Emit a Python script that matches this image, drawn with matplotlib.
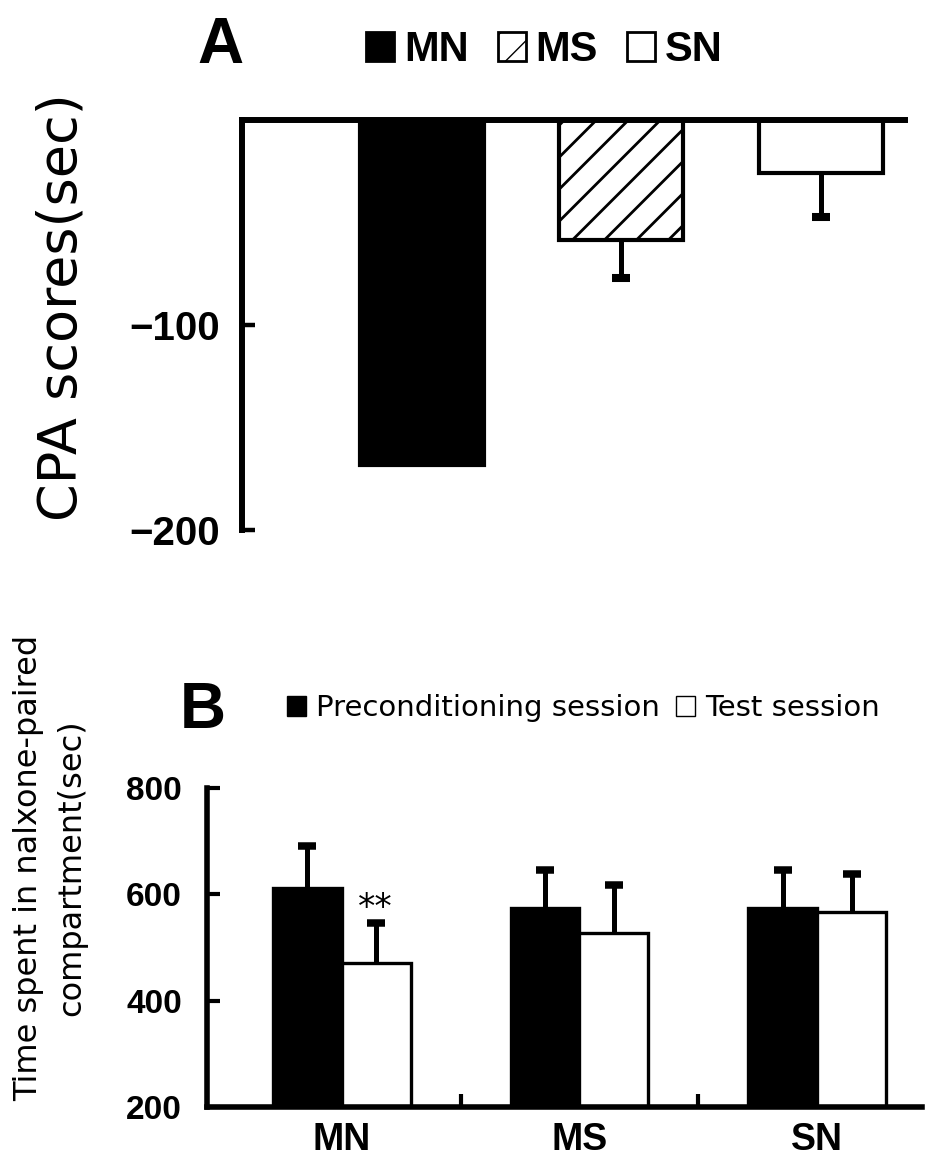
import numpy as np
import matplotlib
matplotlib.use("Agg")
import matplotlib.pyplot as plt
from matplotlib.patches import Patch
from matplotlib.lines import Line2D
from matplotlib.transforms import IdentityTransform

# ---------------- data ----------------
groups = ["MN", "MS", "SN"]
cpa_mean = [-168.3, -58.5, -25.9]
cpa_err = [np.nan, 18.5, 21.4]

sessions = ["Preconditioning session", "Test session"]
pre_mean = [612, 574, 574]
pre_err = [79, 72, 72]
test_mean = [471, 527, 567]
test_err = [76, 91, 72]
signif = ["**", "", ""]

W, H = 925, 1162
fig = plt.figure(figsize=(W / 100, H / 100), dpi=100)
BOLDF = "Liberation Sans"

def fx(px):
    return px / W

def fy(py):
    return 1 - py / H

# ---------------- panel A ----------------
axA = fig.add_axes([fx(242), fy(530), (905 - 242) / W, (530 - 120) / H])
xA = np.arange(len(groups))
facesA = ["black", "white", "white"]
barsA = axA.bar(xA, cpa_mean, width=0.62, color=facesA, edgecolor="black",
                linewidth=3, zorder=2)
axA.set_xlim(-0.901, 2.422)
axA.set_ylim(-200, 0)
for s in ["bottom", "right"]:
    axA.spines[s].set_visible(False)
for s in ["top", "left"]:
    axA.spines[s].set_linewidth(4.3)
axA.set_xticks([])
axA.set_yticks([-100, -200])
axA.set_yticklabels(["\u2212100", "\u2212200"], fontsize=29, fontweight="bold",
                    family=BOLDF)
axA.tick_params(axis="y", direction="in", length=9.5, width=3.2, pad=16)

# error bars (one-sided, away from zero)
for x, m, e in zip(xA, cpa_mean, cpa_err):
    if np.isnan(e):
        continue
    axA.vlines(x, m, m - e, color="black", lw=3.6, zorder=3)
    axA.plot([x], [m - e], ls="none", marker="_", ms=13.5, mew=5.8,
             color="black", zorder=3)

# manual wide hatch on MS bar
patch = barsA[1]
bb = patch.get_window_extent()
step = 32
for x0 in np.arange(bb.x0 - bb.height - step, bb.x1 + step, step):
    ln = Line2D([x0, x0 + bb.height + 10], [bb.y0 - 5, bb.y1 + 5],
                transform=IdentityTransform(), color="black", lw=2.0, zorder=2.5)
    axA.add_artist(ln)
    ln.set_clip_path(patch)

fig.text(fx(62), fy(307), "CPA scores(sec)", rotation=90, fontsize=39,
         ha="center", va="center")
fig.text(fx(197), fy(63), "A", fontsize=46, fontweight="bold", family=BOLDF,
         va="baseline", ha="left")

handlesA = [Patch(facecolor="black", edgecolor="black", lw=2),
            Patch(facecolor="white", edgecolor="black", hatch="/", lw=2),
            Patch(facecolor="white", edgecolor="black", lw=2)]
fig.legend(handlesA, groups, loc="lower left", bbox_to_anchor=(fx(366), fy(70)),
           ncol=3, frameon=False,
           prop={"family": BOLDF, "weight": "bold", "size": 30},
           handlelength=0.67, handleheight=0.72, handletextpad=0.24,
           columnspacing=0.7, borderpad=0, borderaxespad=0)

# ---------------- panel B ----------------
axB = fig.add_axes([fx(207), fy(1107), (922 - 207) / W, (1107 - 788) / H])
xB = np.arange(len(groups))
bw = 0.29
axB.bar(xB - bw / 2, pre_mean, width=bw, color="black", edgecolor="black",
        linewidth=2.4, zorder=2)
axB.bar(xB + bw / 2, test_mean, width=bw, color="white", edgecolor="black",
        linewidth=2.4, zorder=2)
for xs, ms, es in [(xB - bw / 2, pre_mean, pre_err), (xB + bw / 2, test_mean, test_err)]:
    axB.vlines(xs, ms, np.array(ms) + np.array(es), color="black", lw=3.6, zorder=3)
    axB.plot(xs, np.array(ms) + np.array(es), ls="none", marker="_", ms=13.5,
             mew=5.4, color="black", zorder=3)
for x, m, e, s in zip(xB + bw / 2, test_mean, test_err, signif):
    if s:
        axB.annotate(s, xy=(x, m + e), xytext=(-1, -2), textcoords="offset points",
                     ha="center", va="bottom", fontsize=25)

axB.set_xlim(-0.567, 2.441)
axB.set_ylim(200, 800)
for s in ["top", "right"]:
    axB.spines[s].set_visible(False)
for s in ["bottom", "left"]:
    axB.spines[s].set_linewidth(4.0)
axB.set_yticks([200, 400, 600, 800])
axB.set_yticklabels(["200", "400", "600", "800"], fontsize=24, fontweight="bold",
                    family=BOLDF)
axB.tick_params(axis="y", direction="in", length=9.5, width=3, pad=18)
axB.set_xticks(xB)
axB.set_xticklabels(groups, fontsize=27, fontweight="bold", family=BOLDF)
axB.tick_params(axis="x", which="major", length=0, pad=11)
axB.set_xticks(xB[:-1] + 0.5, minor=True)
axB.tick_params(axis="x", which="minor", direction="in", length=9.5, width=3)

fig.text(fx(50), fy(868), "Time spent in nalxone-paired\ncompartment(sec)",
         rotation=90, fontsize=23, ha="center", va="center", linespacing=1.5,
         multialignment="center")
fig.text(fx(180), fy(728), "B", fontsize=46, fontweight="bold", family=BOLDF,
         va="baseline", ha="left")

handlesB = [Patch(facecolor="black", edgecolor="black", lw=1),
            Patch(facecolor="white", edgecolor="black", lw=1)]
fig.legend(handlesB, sessions, loc="lower left", bbox_to_anchor=(fx(287), fy(722)),
           ncol=2, frameon=False, prop={"size": 21},
           handlelength=0.65, handleheight=0.7, handletextpad=0.34,
           columnspacing=0.55, borderpad=0, borderaxespad=0)

fig.savefig("out.png", dpi=100, facecolor="white")
